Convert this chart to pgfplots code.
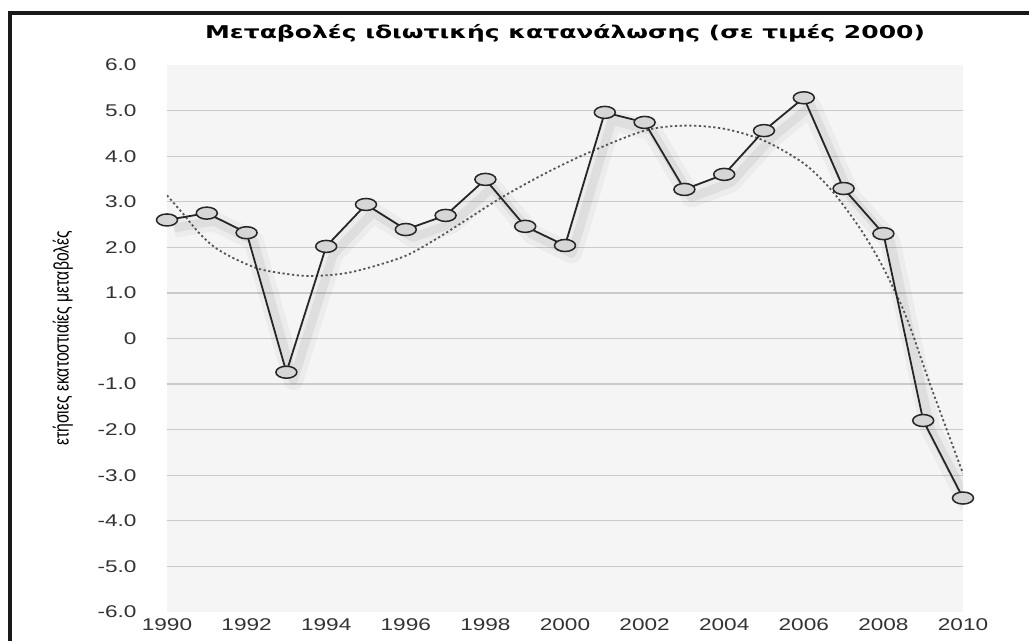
\documentclass[border=0pt]{standalone}
\usepackage{fontspec}
\setmainfont{Liberation Sans}[FakeStretch=1.33]
\newfontfamily\ylfont{Liberation Sans}[FakeStretch=0.75]
\newfontfamily\titlefont{DejaVu Sans}[FakeStretch=1.42]
\usepackage{pgfplots}
\pgfplotsset{compat=1.18}
\definecolor{bgcol}{HTML}{F5F5F5}
\definecolor{gridcol}{HTML}{CACACA}
\definecolor{markfill}{HTML}{D6D6D6}
\definecolor{tickcol}{HTML}{333333}
\definecolor{trendcol}{HTML}{555555}

\begin{document}
\begin{tikzpicture}
  \useasboundingbox (-83.5pt,-14.5pt) rectangle (432pt,306pt);
  \begin{axis}[
      scale only axis,
      width=398pt, height=273.5pt,
      xmin=1990, xmax=2010, ymin=-6, ymax=6,
      axis line style={draw=none},
      axis background/.style={fill=bgcol},
      major tick length=0pt,
      xtick={1990,1992,...,2010},
      xticklabels={1990,1992,1994,1996,1998,2000,2002,2004,2006,2008,2010},
      ytick={-5,...,5},
      yticklabels={-5.0,-4.0,-3.0,-2.0,-1.0,0,1.0,2.0,3.0,4.0,5.0},
      extra y ticks={-6,6},
      extra y tick labels={-6.0,6.0},
      extra y tick style={grid=none},
      ymajorgrids,
      major grid style={draw=gridcol, line width=0.6pt},
      tick label style={font=\fontsize{8.5}{10}\selectfont, text=tickcol},
      yticklabel style={anchor=east, xshift=-11.7pt},
      xticklabel style={anchor=north, yshift=0pt},
      title={Μεταβολές ιδιωτικής κατανάλωσης (σε τιμές 2000)},
      title style={at={(0.5,1)}, anchor=center, yshift=10pt,
        font=\titlefont\bfseries\fontsize{8.8}{10}\selectfont},
      ylabel={ετήσιες εκατοστιαίες μεταβολές},
      ylabel style={at={(axis description cs:0,0.5)}, anchor=center,
        yshift=52pt, font=\ylfont\fontsize{10.5}{11}\selectfont},
    ]
    % shadow of the series
    \addplot[draw=black, opacity=0.035, line width=10pt, shift={(3.5pt,-4pt)}, line join=round] table {
      x y
      1990 2.60
      1991 2.75
      1992 2.32
      1993 -0.74
      1994 2.02
      1995 2.94
      1996 2.39
      1997 2.70
      1998 3.49
      1999 2.46
      2000 2.04
      2001 4.96
      2002 4.74
      2003 3.27
      2004 3.60
      2005 4.56
      2006 5.28
      2007 3.29
      2008 2.30
      2009 -1.80
      2010 -3.50
    };
    \addplot[draw=black, opacity=0.06, line width=4.5pt, shift={(3.5pt,-4pt)}, line join=round] table {
      x y
      1990 2.60
      1991 2.75
      1992 2.32
      1993 -0.74
      1994 2.02
      1995 2.94
      1996 2.39
      1997 2.70
      1998 3.49
      1999 2.46
      2000 2.04
      2001 4.96
      2002 4.74
      2003 3.27
      2004 3.60
      2005 4.56
      2006 5.28
      2007 3.29
      2008 2.30
      2009 -1.80
      2010 -3.50
    };
    % trend
    \addplot[trendcol, line width=0.9pt, dash pattern=on 1.1pt off 1.3pt, smooth] table {
      x y
      1990.0 3.14
      1990.4 2.74
      1990.8 2.32
      1991.2 2.00
      1991.7 1.75
      1992.3 1.53
      1992.9 1.43
      1993.6 1.37
      1994.6 1.45
      1995.9 1.78
      1996.7 2.15
      1997.5 2.59
      1998.4 3.09
      1999.5 3.62
      2000.6 4.08
      2002.0 4.56
      2003.0 4.67
      2004.0 4.60
      2005.0 4.34
      2006.0 3.84
      2006.7 3.25
      2007.4 2.43
      2007.9 1.71
      2008.4 0.83
      2008.7 0.18
      2009.2 -1.07
      2010.0 -2.96
    };
    % series
    \addplot[draw=black!85, line width=0.9pt, mark=*, mark size=3pt,
      mark options={fill=markfill, draw=black!85, line width=0.75pt, xscale=1.75}] table {
      x y
      1990 2.60
      1991 2.75
      1992 2.32
      1993 -0.74
      1994 2.02
      1995 2.94
      1996 2.39
      1997 2.70
      1998 3.49
      1999 2.46
      2000 2.04
      2001 4.96
      2002 4.74
      2003 3.27
      2004 3.60
      2005 4.56
      2006 5.28
      2007 3.29
      2008 2.30
      2009 -1.80
      2010 -3.50
    };
  \end{axis}
  \draw[line width=1.6pt, black!90] (-78.5pt,-14.5pt) -- (-78.5pt,299.5pt) -- (431pt,299.5pt);
\end{tikzpicture}
\end{document}
